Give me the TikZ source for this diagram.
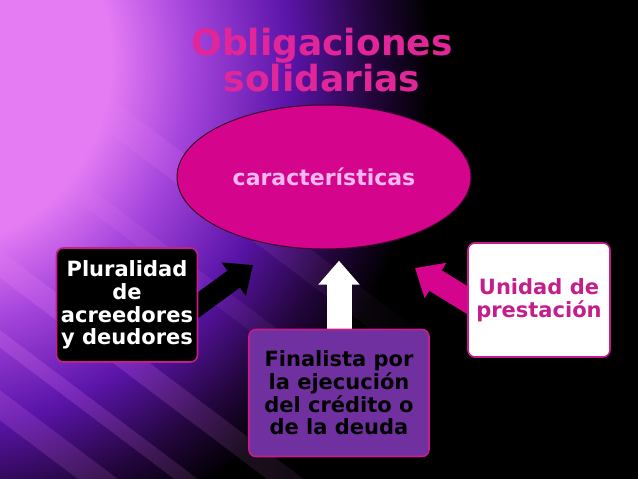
\documentclass[tikz,border=0pt]{standalone}
\usepackage{fontspec}
\setmainfont{DejaVu Sans}
\usetikzlibrary{arrows.meta,shapes.geometric,fadings}
\definecolor{rosa}{HTML}{E2269A}
\definecolor{fucsia}{HTML}{D4048C}
\definecolor{borde}{HTML}{C41E8C}
\definecolor{lila}{HTML}{7030A0}
\definecolor{rosaclaro}{HTML}{F7B8F0}
\definecolor{bgA}{HTML}{E57CF4}
\definecolor{bgB}{HTML}{A545DC}
\definecolor{bgC}{HTML}{5A14A8}
\definecolor{bgD}{HTML}{24063F}
\pgfdeclareradialshading{fondo}{\pgfpoint{0bp}{0bp}}{color(0bp)=(bgA); color(5.3bp)=(bgA); color(7.5bp)=(bgB); color(10.3bp)=(bgC); color(12.5bp)=(bgD); color(14.2bp)=(black); color(50bp)=(black)}
\pgfdeclarelayer{capafondo}
\pgfdeclarelayer{capaflechas}
\pgfsetlayers{capafondo,capaflechas,main}
\tikzset{
  caja/.style={draw=borde, line width=1.6pt, rounded corners=7pt, align=center,
    font=\bfseries\fontsize{21}{22.6}\selectfont, inner sep=0pt},
  flecha/.style={line width=21pt, -{Triangle[width=40pt,length=24pt]}},
}
\begin{document}
\begin{tikzpicture}[x=1pt, y=-1pt, line join=round]
\useasboundingbox (0,0) rectangle (638,479);
\begin{pgfonlayer}{capafondo}
  \clip (0,0) rectangle (638,479);
  \fill[black] (0,0) rectangle (638,479);
  \shade[shading=fondo] (-80,60) circle (900);
  \foreach \y/\w/\o in {15/28/.3, 120/18/.2, 250/22/.3, 330/14/.25, 390/24/.2}{
    \fill[bgA, opacity=\o, path fading=east, rotate around={-37:(0,\y)}] (-20,\y) rectangle ++(560,\w);}
\end{pgfonlayer}

\node[text=rosa, align=center, font=\bfseries\fontsize{36}{33}\selectfont] (titulo) at (322,60) {Obligaciones\\solidarias};
\node[ellipse, fill=fucsia, draw=black!70!fucsia, line width=1pt, minimum width=294pt, minimum height=144pt,
  text=rosaclaro, font=\bfseries\fontsize{22}{24}\selectfont] (caract) at (324,177) {características};

\node[caja, fill=black, text=white, minimum width=141pt, minimum height=114pt] (plural) at (127,305) {Pluralidad\\de\\acreedores\\y deudores};
\node[caja, fill=lila, text=black, minimum width=180pt, minimum height=127pt] (final) at (339,393) {Finalista por\\la ejecución\\del crédito o\\de la deuda};
\node[caja, fill=white, text=borde, minimum width=142pt, minimum height=114pt] (unidad) at (539,300) {Unidad de\\prestación};

\path (253,265) coordinate (tipP)
  (final.north) ++(0,-68) coordinate (tipF)
  (415,268) coordinate (tipU);
\begin{pgfonlayer}{capaflechas}
  \draw[flecha, black, shorten <=-14pt] (plural.east) -- (tipP);
  \draw[flecha, white, line width=25pt, shorten <=-14pt] (final.north) -- (tipF);
  \draw[flecha, fucsia, line width=24pt, shorten <=-14pt] (unidad.west) -- (tipU);
\end{pgfonlayer}
\end{tikzpicture}
\end{document}
